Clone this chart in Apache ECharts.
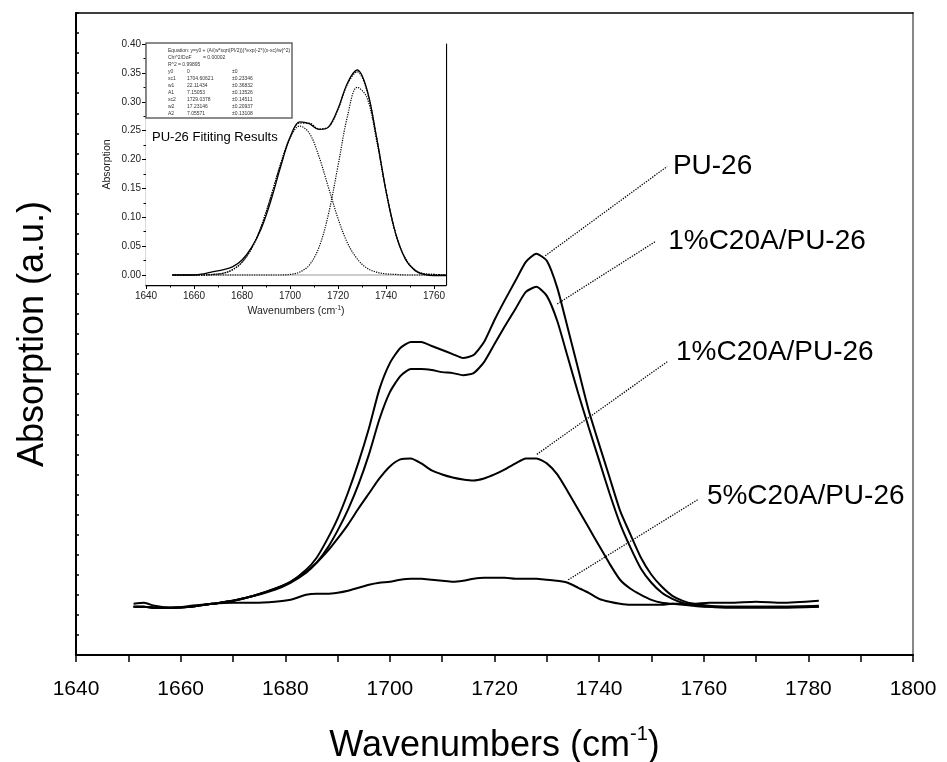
<!DOCTYPE html>
<html><head><meta charset="utf-8">
<script src="https://cdn.jsdelivr.net/npm/echarts@6/dist/echarts.min.js"></script>
<style>html,body{margin:0;padding:0;background:#fff}#c{width:947px;height:762px}</style>
</head><body><div id="c"></div>
<script>
// ---------- main chart data ----------
const wavenumbers = [1651,1653,1655,1658,1662,1666,1670,1674,1678,1681,1684,1686,1688,1690,1692,1694,1696,1698,1700,1702,1704,1706,1708,1710,1712,1714,1716,1718,1720,1722,1724,1726,1728,1730,1732,1734,1736,1738,1740,1742,1744,1746,1748,1750,1752,1754,1756,1758,1761,1765,1770,1775,1782];
const absPU26 = [0.008,0.008,0.007,0.007,0.008,0.011,0.014,0.019,0.026,0.033,0.045,0.057,0.075,0.096,0.122,0.152,0.186,0.225,0.251,0.266,0.272,0.272,0.268,0.264,0.260,0.256,0.259,0.272,0.294,0.314,0.333,0.352,0.360,0.353,0.326,0.286,0.245,0.204,0.170,0.137,0.104,0.080,0.057,0.040,0.028,0.019,0.014,0.011,0.009,0.008,0.008,0.008,0.009];
const abs1pctA = [0.008,0.008,0.007,0.007,0.008,0.011,0.014,0.019,0.025,0.032,0.042,0.052,0.066,0.084,0.105,0.130,0.160,0.195,0.222,0.238,0.245,0.245,0.244,0.242,0.241,0.239,0.241,0.252,0.270,0.288,0.305,0.322,0.327,0.318,0.293,0.257,0.221,0.187,0.154,0.121,0.091,0.067,0.046,0.032,0.022,0.016,0.012,0.010,0.008,0.007,0.007,0.007,0.008];
const abs1pctB = [0.008,0.008,0.007,0.007,0.008,0.011,0.014,0.019,0.026,0.033,0.043,0.052,0.063,0.076,0.090,0.106,0.121,0.136,0.148,0.155,0.156,0.151,0.144,0.140,0.137,0.135,0.134,0.136,0.140,0.145,0.151,0.156,0.156,0.151,0.140,0.123,0.105,0.087,0.069,0.051,0.035,0.026,0.020,0.015,0.012,0.011,0.010,0.009,0.008,0.008,0.008,0.008,0.008];
const abs5pct = [0.011,0.012,0.009,0.007,0.009,0.011,0.012,0.012,0.013,0.015,0.020,0.021,0.021,0.022,0.024,0.027,0.030,0.032,0.033,0.035,0.036,0.036,0.035,0.034,0.033,0.034,0.036,0.037,0.037,0.037,0.036,0.036,0.036,0.035,0.034,0.032,0.027,0.022,0.016,0.013,0.011,0.010,0.010,0.010,0.010,0.011,0.011,0.011,0.012,0.012,0.013,0.012,0.014];
const seriesNames = ['PU-26', '1%C20A/PU-26', '1%C20A/PU-26', '5%C20A/PU-26'];

// ---------- inset data ----------
const insetWn = [1651,1656,1660,1664,1668,1672,1676,1680,1684,1688,1692,1696,1700,1704,1708,1712,1716,1720,1724,1728,1732,1736,1740,1744,1748,1752,1756,1760,1765];
const insetMeasured = [0.000,0.000,0.000,0.002,0.006,0.009,0.014,0.026,0.048,0.080,0.128,0.186,0.238,0.265,0.262,0.252,0.256,0.288,0.333,0.355,0.322,0.240,0.146,0.072,0.028,0.008,0.001,-0.001,-0.001];
const insetFitSum = [0.000,0.000,0.000,0.000,0.001,0.003,0.009,0.022,0.046,0.084,0.135,0.191,0.238,0.263,0.263,0.253,0.256,0.287,0.331,0.352,0.320,0.240,0.146,0.072,0.029,0.009,0.002,0.001,0.000];
const insetPeak1 = [0.000,0.000,0.000,0.000,0.001,0.003,0.009,0.022,0.046,0.084,0.135,0.191,0.237,0.258,0.246,0.206,0.152,0.098,0.055,0.028,0.012,0.005,0.002,0.001,0.000,0.000,0.000,0.000,0.000];
const insetPeak2 = [0.000,0.000,0.000,0.000,0.000,0.000,0.000,0.000,0.000,0.000,0.000,0.000,0.001,0.005,0.017,0.047,0.105,0.189,0.276,0.325,0.308,0.235,0.145,0.072,0.029,0.009,0.002,0.001,0.000];
const insetBaseWn = [1651, 1765];
const insetBaseVal = [0, 0];
const insetYTicks = [0,0.05,0.10,0.15,0.20,0.25,0.30,0.35,0.40];
const insetYMinor = [0.025,0.075,0.125,0.175,0.225,0.275,0.325,0.375];
const insetXTicks = [1640,1660,1680,1700,1720,1740,1760];
const insetXMinor = [1650,1670,1690,1710,1730,1750];
const fitHeader = ['Equation: y=y0 + (A/(w*sqrt(PI/2)))*exp(-2*((x-xc)/w)^2)', 'Chi^2/DoF', '= 0.00002', 'R^2', '= 0.99895'];
const fitNames = ['y0','xc1','w1','A1','xc2','w2','A2'];
const fitValues = ['0','1704.60621','22.11434','7.15053','1729.0378','17.23146','7.05571'];
const fitErrors = ['±0','±0.23346','±0.36832','±0.13526','±0.14511','±0.20937','±0.13108'];

const zip = (xs, ys) => xs.map((x, i) => [x, ys[i]]);
const FONT = '"Liberation Sans", Arial, Helvetica, sans-serif';

// annotation leader lines (data coordinates)
const leaders = [
  {from: [1729.7, 0.358], to: [1753.0, 0.447], at: [1754.1, 0.447]},
  {from: [1732.0, 0.310], to: [1750.7, 0.372], at: [1753.2, 0.372]},
  {from: [1728.1, 0.160], to: [1753.2, 0.253], at: [1754.7, 0.262]},
  {from: [1734.1, 0.035], to: [1758.9, 0.115], at: [1760.6, 0.118]}
];

const mainData = [absPU26, abs1pctA, abs1pctB, abs5pct];

const chart = echarts.init(document.getElementById('c'), null, {renderer: 'canvas'});

const mainSeries = mainData.map((vals, i) => ({
  name: seriesNames[i] + '#' + i,
  type: 'line', xAxisIndex: 0, yAxisIndex: 0,
  data: zip(wavenumbers, vals),
  showSymbol: false, smooth: 0.2,
  lineStyle: {color: '#000', width: 2},
  z: 3,
  markLine: {
    silent: true, symbol: ['none', 'none'], animation: false,
    lineStyle: {type: 'dotted', color: '#000', width: 1.3},
    label: {show: false},
    data: [[{coord: leaders[i].from}, {coord: leaders[i].to}]]
  }
}));

const insetLine = (vals, dotted, width, color) => ({
  type: 'line', xAxisIndex: 2, yAxisIndex: 2,
  data: zip(insetWn, vals), showSymbol: false, smooth: 0.35,
  lineStyle: {color: color || '#000', width: width, type: dotted ? 'dotted' : 'solid'},
  z: 5
});

const plain = v => String(Math.round(v));

const option = {
  animation: false,
  backgroundColor: '#fff',
  grid: [
    {left: 76, right: 34, top: 13, bottom: 107, outerBoundsMode: 'none', containLabel: false},
    {left: 146, top: 44, width: 300, height: 241, backgroundColor: '#fff', show: true, borderWidth: 0, z: 4,
     outerBoundsMode: 'none', containLabel: false}
  ],
  xAxis: [
    {gridIndex: 0, type: 'value', min: 1640, max: 1800, interval: 10, position: 'bottom',
     axisLine: {onZero: false, lineStyle: {color: '#000', width: 2}},
     axisTick: {inside: false, length: 7, lineStyle: {color: '#000', width: 1.5}},
     axisLabel: {fontSize: 21, color: '#000', fontFamily: FONT, margin: 24,
                 formatter: v => (Math.round(v) % 20 === 0 ? plain(v) : '')},
     splitLine: {show: false},
     name: '{a|Wavenumbers (cm}{s|-1}{a|)}', nameLocation: 'middle', nameGap: 69,
     nameTextStyle: {rich: {a: {fontSize: 36, fontFamily: FONT, color: '#000', lineHeight: 44},
                            s: {fontSize: 20, fontFamily: FONT, color: '#000', verticalAlign: 'top', lineHeight: 26}}}},
    {gridIndex: 0, type: 'value', min: 1640, max: 1800, position: 'top',
     axisLine: {onZero: false, lineStyle: {color: '#000', width: 1.5}}, axisTick: {show: false}, axisLabel: {show: false}, splitLine: {show: false}},
    {gridIndex: 1, type: 'value', min: 1640, max: 1765, position: 'bottom',
     axisLine: {onZero: false, lineStyle: {color: '#000', width: 1.3}},
     axisTick: {length: 4, customValues: insetXTicks, lineStyle: {color: '#000', width: 1}},
     axisLabel: {customValues: insetXTicks, fontSize: 10, color: '#222', fontFamily: FONT, margin: 6, formatter: plain},
     splitLine: {show: false},
     name: '{a|Wavenumbers (cm}{s|-1}{a|)}', nameLocation: 'middle', nameGap: 20,
     nameTextStyle: {rich: {a: {fontSize: 10.5, fontFamily: FONT, color: '#222', lineHeight: 13},
                            s: {fontSize: 6.5, fontFamily: FONT, color: '#222', verticalAlign: 'top', lineHeight: 8}}}},
    {gridIndex: 1, type: 'value', min: 1640, max: 1765, position: 'bottom',
     axisLine: {show: false, onZero: false},
     axisTick: {length: 2.5, customValues: insetXMinor, lineStyle: {color: '#000', width: 1}},
     axisLabel: {show: false}, splitLine: {show: false}},
    {gridIndex: 1, type: 'value', min: 1640, max: 1765, position: 'top',
     axisLine: {onZero: false, lineStyle: {color: '#000', width: 1.2}}, axisTick: {show: false}, axisLabel: {show: false}, splitLine: {show: false}}
  ],
  yAxis: [
    {gridIndex: 0, type: 'value', min: -0.04, max: 0.60, interval: 0.02, position: 'left',
     axisLine: {onZero: false, lineStyle: {color: '#000', width: 2}},
     axisTick: {inside: true, length: 3, lineStyle: {color: '#000', width: 1.5}},
     axisLabel: {show: false}, splitLine: {show: false},
     name: 'Absorption (a.u.)', nameLocation: 'middle', nameGap: 25,
     nameTextStyle: {fontSize: 36, fontFamily: FONT, color: '#000'}},
    {gridIndex: 0, type: 'value', min: -0.04, max: 0.60, position: 'right',
     axisLine: {onZero: false, lineStyle: {color: '#888', width: 2}}, axisTick: {show: false}, axisLabel: {show: false}, splitLine: {show: false}},
    {gridIndex: 1, type: 'value', min: -0.0173, max: 0.40, position: 'left',
     axisLine: {onZero: false, lineStyle: {color: '#000', width: 1.3}},
     axisTick: {length: 4, customValues: insetYTicks, lineStyle: {color: '#000', width: 1}},
     axisLabel: {customValues: insetYTicks, fontSize: 10, color: '#222', fontFamily: FONT, margin: 5,
                 formatter: v => v.toFixed(2)},
     splitLine: {show: false},
     name: 'Absorption', nameLocation: 'middle', nameGap: 33,
     nameTextStyle: {fontSize: 10.5, fontFamily: FONT, color: '#222'}},
    {gridIndex: 1, type: 'value', min: -0.0173, max: 0.40, position: 'left',
     axisLine: {show: false, onZero: false},
     axisTick: {length: 2.5, customValues: insetYMinor, lineStyle: {color: '#000', width: 1}},
     axisLabel: {show: false}, splitLine: {show: false}},
    {gridIndex: 1, type: 'value', min: -0.0173, max: 0.40, position: 'right',
     axisLine: {onZero: false, lineStyle: {color: '#000', width: 1.2}}, axisTick: {show: false}, axisLabel: {show: false}, splitLine: {show: false}}
  ],
  series: mainSeries.concat([
    {type: 'line', xAxisIndex: 2, yAxisIndex: 2, data: zip(insetBaseWn, insetBaseVal), showSymbol: false,
     lineStyle: {color: '#999', width: 1.2}, z: 5},
    insetLine(insetPeak1, true, 1.2),
    insetLine(insetPeak2, true, 1.2),
    insetLine(insetMeasured, false, 1.3),
    insetLine(insetFitSum, true, 1.3)
  ])
};
chart.setOption(option);

// ---------- text annotations ----------
const graphics = [];
leaders.forEach((l, i) => {
  const p = chart.convertToPixel({gridIndex: 0}, l.at);
  graphics.push({type: 'text', x: p[0], y: p[1], z: 10,
    style: {text: seriesNames[i], font: '28px ' + FONT, fill: '#000', textVerticalAlign: 'middle', textAlign: 'left'}});
});
// fit parameter box (inset)
const bx = 146, by = 43, bw = 146, bh = 75;
graphics.push({type: 'rect', shape: {x: bx, y: by, width: bw, height: bh}, z: 20,
  style: {fill: '#fff', stroke: '#666', lineWidth: 1.5}});
const small = '5px ' + FONT;
const rowY0 = by + 8, rowStep = 7;
const addT = (x, y, t) => graphics.push({type: 'text', x: x, y: y, z: 21, style: {text: t, font: small, fill: '#333', textVerticalAlign: 'middle'}});
addT(bx + 22, rowY0, fitHeader[0]);
addT(bx + 22, rowY0 + rowStep, fitHeader[1]);
addT(bx + 57, rowY0 + rowStep, fitHeader[2]);
addT(bx + 22, rowY0 + 2 * rowStep, fitHeader[3]);
addT(bx + 32, rowY0 + 2 * rowStep, fitHeader[4]);
fitNames.forEach((n, i) => {
  const yy = rowY0 + (3 + i) * rowStep;
  addT(bx + 22, yy, n);
  addT(bx + 41, yy, fitValues[i]);
  addT(bx + 86, yy, fitErrors[i]);
});
graphics.push({type: 'text', x: 152, y: 137, z: 21,
  style: {text: 'PU-26 Fititing Results', font: '13px ' + FONT, fill: '#000', textVerticalAlign: 'middle'}});
chart.setOption({graphic: graphics});
</script>
</body></html>
